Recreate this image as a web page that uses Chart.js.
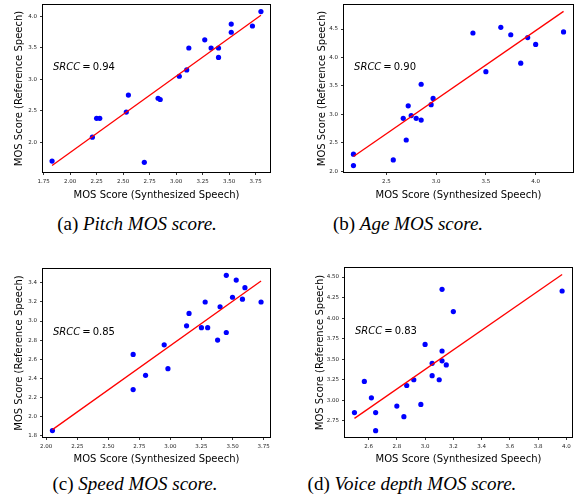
<!DOCTYPE html>
<html lang="fr">
<head>
<meta charset="utf-8">
<title>MOS scores</title>
<script src="https://cdn.jsdelivr.net/npm/chart.js@4.4.1/dist/chart.umd.min.js"></script>
<style>
  html, body { margin: 0; padding: 0; background: #fff; }
  #page { position: relative; width: 582px; height: 503px; overflow: hidden; }
  canvas { position: absolute; }
  .legende { position: absolute; width: 300px; text-align: center; font-family: 'Liberation Serif', serif; font-size: 19px; line-height: 20px; color: #000; white-space: nowrap; }
  .legende i { font-style: italic; }
</style>
</head>
<body>
<div id="page">
  <canvas id="chartPitch" width="291" height="204" style="left:0;top:0"></canvas>
  <canvas id="chartAge" width="291" height="204" style="left:291px;top:0"></canvas>
  <canvas id="chartSpeed" width="291" height="209" style="left:0;top:260px"></canvas>
  <canvas id="chartDepth" width="291" height="209" style="left:291px;top:260px"></canvas>
  <div class="legende" style="left:-13px;top:214px">(a) <i>Pitch MOS score.</i></div>
  <div class="legende" style="left:258px;top:214px">(b) <i>Age MOS score.</i></div>
  <div class="legende" style="left:-15px;top:474px">(c) <i>Speed MOS score.</i></div>
  <div class="legende" style="left:262px;top:474px">(d) <i>Voice depth MOS score.</i></div>
</div>
<script>
// Données : score synthétisé (x) et score de référence (y)
var pitchSynth = [1.83, 2.21, 2.25, 2.28, 2.53, 2.55, 2.70, 2.83, 2.85, 3.03, 3.10, 3.12, 3.27, 3.33, 3.40, 3.40, 3.52, 3.52, 3.72, 3.80];
var pitchRef = [1.70, 2.08, 2.38, 2.38, 2.48, 2.75, 1.68, 2.70, 2.68, 3.05, 3.15, 3.50, 3.63, 3.50, 3.50, 3.35, 3.88, 3.75, 3.85, 4.08];
var pitchFitX = [1.83, 3.80];
var pitchFitY = [1.63, 4.02];

var ageSynth = [2.17, 2.17, 2.57, 2.67, 2.70, 2.72, 2.75, 2.80, 2.85, 2.85, 2.95, 2.97, 3.37, 3.50, 3.65, 3.75, 3.85, 3.92, 4.00, 4.28];
var ageRef = [2.30, 2.10, 2.20, 2.93, 2.55, 3.15, 2.98, 2.93, 3.53, 2.90, 3.17, 3.28, 4.43, 3.75, 4.53, 4.40, 3.90, 4.35, 4.23, 4.45];
var ageFitX = [2.17, 4.28];
var ageFitY = [2.26, 4.81];

var speedSynth = [2.05, 2.70, 2.70, 2.80, 2.95, 2.98, 3.13, 3.15, 3.25, 3.28, 3.30, 3.38, 3.40, 3.45, 3.45, 3.50, 3.53, 3.58, 3.60, 3.73];
var speedRef = [1.85, 2.65, 2.28, 2.43, 2.75, 2.50, 2.95, 3.08, 2.93, 3.20, 2.93, 2.80, 3.15, 3.48, 2.88, 3.25, 3.43, 3.23, 3.35, 3.20];
var speedFitX = [2.05, 3.73];
var speedFitY = [1.86, 3.42];

var depthSynth = [2.50, 2.57, 2.62, 2.65, 2.65, 2.80, 2.85, 2.87, 2.92, 2.97, 3.00, 3.05, 3.05, 3.10, 3.12, 3.12, 3.12, 3.15, 3.20, 3.97];
var depthRef = [2.85, 3.23, 3.03, 2.85, 2.63, 2.93, 2.80, 3.18, 3.25, 2.95, 3.68, 3.45, 3.30, 3.25, 4.35, 3.60, 3.48, 3.43, 4.08, 4.33];
var depthFitX = [2.50, 3.97];
var depthFitY = [2.78, 4.53];

// Graduations des axes
var pitchXTicks = ['1.75', '2.00', '2.25', '2.50', '2.75', '3.00', '3.25', '3.50', '3.75'];
var pitchYTicks = ['2.0', '2.5', '3.0', '3.5', '4.0'];
var ageXTicks = ['2.5', '3.0', '3.5', '4.0'];
var ageYTicks = ['2.0', '2.5', '3.0', '3.5', '4.0', '4.5'];
var speedXTicks = ['2.00', '2.25', '2.50', '2.75', '3.00', '3.25', '3.50', '3.75'];
var speedYTicks = ['1.8', '2.0', '2.2', '2.4', '2.6', '2.8', '3.0', '3.2', '3.4'];
var depthXTicks = ['2.6', '2.8', '3.0', '3.2', '3.4', '3.6', '3.8', '4.0'];
var depthYTicks = ['2.75', '3.00', '3.25', '3.50', '3.75', '4.00', '4.25', '4.50'];

// Coefficients SRCC
var srccValues = ['0.94', '0.90', '0.85', '0.83'];

Chart.defaults.font.family = '"DejaVu Sans", sans-serif';
Chart.defaults.color = '#000';

// Cadre noir autour de la zone de tracé + texte SRCC
var cadrePlugin = {
    id: 'cadre',
    afterDraw: function (chart) {
        var area = chart.chartArea;
        var ctx = chart.ctx;
        ctx.save();
        ctx.strokeStyle = '#000';
        ctx.lineWidth = 1;
        ctx.strokeRect(Math.round(area.left) + 0.5, Math.round(area.top) + 0.5,
            Math.round(area.width) - 1, Math.round(area.height) - 1);

        var texte = chart.options.plugins.cadre.srcc;
        var x = area.left + area.width * 0.048;
        var y = area.top + area.height * 0.378;
        ctx.fillStyle = '#000';
        ctx.textBaseline = 'middle';
        ctx.font = 'italic 10px "DejaVu Sans"';
        ctx.fillText('SRCC', x, y);
        x += ctx.measureText('SRCC').width + 2;
        ctx.font = '10px "DejaVu Sans"';
        ctx.fillText('=', x, y);
        x += ctx.measureText('=').width + 2;
        ctx.fillText(texte, x, y);
        ctx.restore();
    }
};

function pointsDe(xs, ys) {
    return xs.map(function (x, i) {
        return { x: x, y: ys[i] };
    });
}

function axe(labels, min, max, titre, taille, titrePad, horizontal) {
    return {
        type: 'linear',
        min: min,
        max: max,
        border: { display: false },
        grid: { drawOnChartArea: false, drawTicks: true, tickLength: 2, color: '#000', lineWidth: 0.8 },
        ticks: {
            autoSkip: false,
            maxRotation: 0,
            padding: horizontal ? 3 : 3,
            color: '#222',
            font: { size: 5.5 },
            callback: function (value) {
                var idx = labels.map(parseFloat).indexOf(value);
                return idx >= 0 ? labels[idx] : '';
            }
        },
        afterBuildTicks: function (scale) {
            scale.ticks = labels.map(function (t) { return { value: parseFloat(t) }; });
        },
        afterFit: function (scale) {
            if (horizontal) {
                scale.height = taille;
                scale.paddingLeft = 0;
                scale.paddingRight = 0;
            } else {
                scale.width = taille;
                scale.paddingTop = 0;
                scale.paddingBottom = 0;
            }
        },
        title: {
            display: true,
            text: titre,
            color: '#000',
            font: { size: 10 },
            padding: horizontal ? { top: 0, bottom: titrePad } : { top: titrePad, bottom: 0 }
        }
    };
}

function dessine(id, xs, ys, fitX, fitY, p) {
    var ctx = document.getElementById(id).getContext('2d');
    return new Chart(ctx, {
        type: 'scatter',
        data: {
            datasets: [{
                type: 'line',
                data: pointsDe(fitX, fitY),
                borderColor: '#ff0000',
                borderWidth: 1.3,
                pointRadius: 0,
                fill: false
            }, {
                type: 'scatter',
                data: pointsDe(xs, ys),
                backgroundColor: '#0000ff',
                borderWidth: 0,
                pointRadius: 2.6
            }]
        },
        options: {
            responsive: false,
            animation: false,
            layout: { padding: { top: p.top, right: p.right, left: 0, bottom: 0 } },
            plugins: {
                legend: { display: false },
                tooltip: { enabled: false },
                cadre: { srcc: p.srcc }
            },
            scales: {
                x: axe(p.xTicks, p.xMin, p.xMax, 'MOS Score (Synthesized Speech)', p.xHeight, p.xPad, true),
                y: axe(p.yTicks, p.yMin, p.yMax, 'MOS Score (Reference Speech)', p.yWidth, p.yPad, false)
            }
        },
        plugins: [cadrePlugin]
    });
}

dessine('chartPitch', pitchSynth, pitchRef, pitchFitX, pitchFitY, {
    xTicks: pitchXTicks, yTicks: pitchYTicks, xMin: 1.735, xMax: 3.895, yMin: 1.51, yMax: 4.2,
    top: 3, right: 20, xHeight: 31, yWidth: 42, xPad: 3, yPad: 13, srcc: srccValues[0]
});
dessine('chartAge', ageSynth, ageRef, ageFitX, ageFitY, {
    xTicks: ageXTicks, yTicks: ageYTicks, xMin: 2.065, xMax: 4.385, yMin: 1.97, yMax: 4.94,
    top: 3, right: 8, xHeight: 31, yWidth: 52, xPad: 3, yPad: 25, srcc: srccValues[1]
});
dessine('chartSpeed', speedSynth, speedRef, speedFitX, speedFitY, {
    xTicks: speedXTicks, yTicks: speedYTicks, xMin: 1.966, xMax: 3.81, yMin: 1.772, yMax: 3.557,
    top: 8, right: 20, xHeight: 31, yWidth: 42, xPad: 3.5, yPad: 13, srcc: srccValues[2]
});
dessine('chartDepth', depthSynth, depthRef, depthFitX, depthFitY, {
    xTicks: depthXTicks, yTicks: depthYTicks, xMin: 2.426, xMax: 4.047, yMin: 2.541, yMax: 4.622,
    top: 7, right: 9, xHeight: 31, yWidth: 53, xPad: 3.5, yPad: 23, srcc: srccValues[3]
});
</script>
</body>
</html>
